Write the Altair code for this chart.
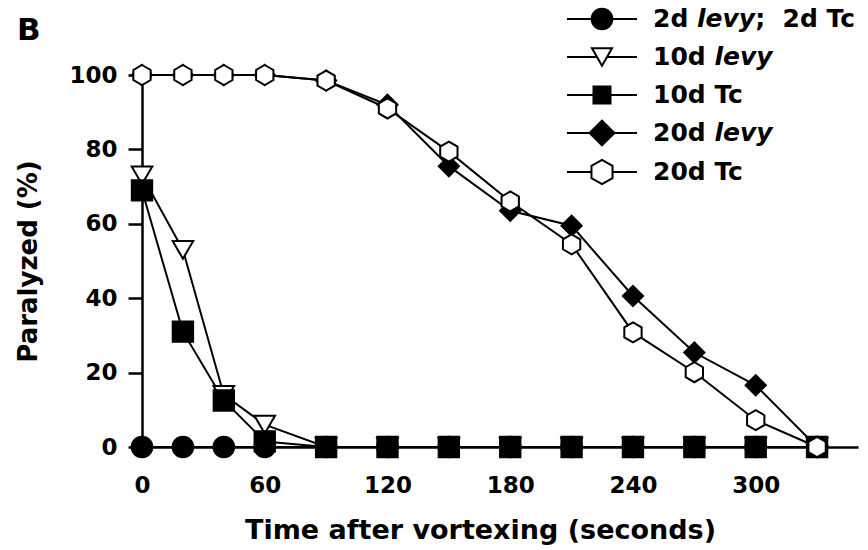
import altair as alt
import pandas as pd

# ---------------- data ----------------
times = [0, 20, 40, 60, 90, 120, 150, 180, 210, 240, 270, 300, 330]
series_names = ["2d levy; 2d Tc", "10d levy", "10d Tc", "20d levy", "20d Tc"]
d2_both = [0, 0, 0, 0, 0, 0, 0, 0, 0, 0, 0, 0, 0]
d10_levy = [73, 53, 14, 6, 0, 0, 0, 0, 0, 0, 0, 0, 0]
d10_tc = [69, 31, 12.5, 1.5, 0, 0, 0, 0, 0, 0, 0, 0, 0]
d20_levy = [100, 100, 100, 100, 98.5, 92, 75.5, 63.5, 59.5, 40.6, 25.4, 16.6, 0]
d20_tc = [100, 100, 100, 100, 98.5, 91, 79.4, 66, 54.5, 30.8, 20.1, 7.2, 0]
x_ticks = [0, 60, 120, 180, 240, 300]
y_ticks = [0, 20, 40, 60, 80, 100]

values = [d2_both, d10_levy, d10_tc, d20_levy, d20_tc]
rows = []
for name, vals in zip(series_names, values):
    for t, v in zip(times, vals):
        rows.append({"series": name, "time": t, "pct": v})
df = pd.DataFrame(rows)

# ---------------- styles ----------------
FONT = "DejaVu Sans"
HEX = "M0,-1L0.866,-0.5L0.866,0.5L0,1L-0.866,0.5L-0.866,-0.5Z"
shape_range = ["circle", "triangle-down", "square", "diamond", HEX]
fill_range = ["black", "white", "black", "black", "white"]
size_range = [430, 400, 290, 620, 590]

xscale = alt.Scale(domain=[0, 350], nice=False, zero=False)
yscale = alt.Scale(domain=[0, 100], nice=False)

x_axis = alt.Axis(
    values=x_ticks, ticks=False, tickSize=0, labelPadding=27, labelFlush=False,
    labelFont=FONT, labelFontWeight="bold", labelFontSize=23, labelColor="black",
    domainColor="black", domainWidth=2.5, grid=False,
    title="Time after vortexing (seconds)", titleFont=FONT, titleFontWeight="bold",
    titleFontSize=27, titleColor="black", titleX=338, titleY=91,
    titleBaseline="alphabetic",
)
y_axis = alt.Axis(
    values=y_ticks, tickSize=14, tickWidth=2.5, tickColor="black", labelPadding=11,
    labelFont=FONT, labelFontWeight="bold", labelFontSize=23, labelColor="black",
    domainColor="black", domainWidth=2.5, grid=False,
    title="Paralyzed (%)", titleFont=FONT, titleFontWeight="bold",
    titleFontSize=26, titleColor="black", titlePadding=27,
)

base = alt.Chart(df)
lines = base.mark_line(color="black", strokeWidth=2).encode(
    x=alt.X("time:Q", scale=xscale, axis=x_axis),
    y=alt.Y("pct:Q", scale=yscale, axis=y_axis),
    detail="series:N",
)
points = base.mark_point(
    filled=True, stroke="black", strokeWidth=2, opacity=1, fillOpacity=1
).encode(
    x="time:Q",
    y="pct:Q",
    shape=alt.Shape("series:N", scale=alt.Scale(domain=series_names, range=shape_range), legend=None),
    fill=alt.Fill("series:N", scale=alt.Scale(domain=series_names, range=fill_range), legend=None),
    size=alt.Size("series:N", scale=alt.Scale(domain=series_names, range=size_range), legend=None),
)

# ---------------- panel letter ----------------
letter = alt.Chart(pd.DataFrame({"t": ["B"]})).mark_text(
    font=FONT, fontWeight="bold", fontSize=31, align="left", baseline="alphabetic", color="black"
).encode(x=alt.value(-125), y=alt.value(-35), text="t:N")

# ---------------- custom legend (mixed italic) ----------------
CHAR_W = {"0": 0.696, "1": 0.696, "2": 0.696, "d": 0.716, " ": 0.348, "\u00a0": 0.348,
          "T": 0.682, "c": 0.593, ";": 0.400, "l": 0.343, "e": 0.678, "v": 0.652, "y": 0.652}
LEG_FS = 25
legend_segments = [
    [("2d\u00a0", False), ("levy", True), (";\u00a0\u00a02d\u00a0Tc", False)],
    [("10d\u00a0", False), ("levy", True)],
    [("10d\u00a0Tc", False)],
    [("20d\u00a0", False), ("levy", True)],
    [("20d\u00a0Tc", False)],
]
legend_y = [-56, -18, 20, 58, 97]
line_x0, line_x1, mark_x, text_x = 425, 495, 460, 511

legend_layers = []
for i, name in enumerate(series_names):
    one = pd.DataFrame({"s": [name]})
    yv = legend_y[i]
    legend_layers.append(
        alt.Chart(one).mark_rule(color="black", strokeWidth=2).encode(
            x=alt.value(line_x0), x2=alt.value(line_x1), y=alt.value(yv))
    )
    legend_layers.append(
        alt.Chart(one).mark_point(
            shape=shape_range[i], size=size_range[i], filled=True, fill=fill_range[i],
            stroke="black", strokeWidth=2, opacity=1, fillOpacity=1,
        ).encode(x=alt.value(mark_x), y=alt.value(yv))
    )
    xpos = text_x
    for txt, ital in legend_segments[i]:
        legend_layers.append(
            alt.Chart(pd.DataFrame({"t": [txt]})).mark_text(
                font=FONT, fontWeight="bold", fontSize=LEG_FS,
                fontStyle="italic" if ital else "normal",
                align="left", baseline="middle", color="black",
            ).encode(x=alt.value(xpos), y=alt.value(yv), text="t:N")
        )
        xpos += sum(CHAR_W.get(ch, 0.65) for ch in txt) * LEG_FS

chart = alt.layer(lines, points, letter, *legend_layers).properties(
    width=716,
    height=372,
    autosize=alt.AutoSizeParams(type="none"),
    padding={"left": 142, "top": 75, "right": 10, "bottom": 103},
    background="white",
).configure_view(stroke=None)

chart.save("out.html", embed_options={"renderer": "svg", "actions": False})
